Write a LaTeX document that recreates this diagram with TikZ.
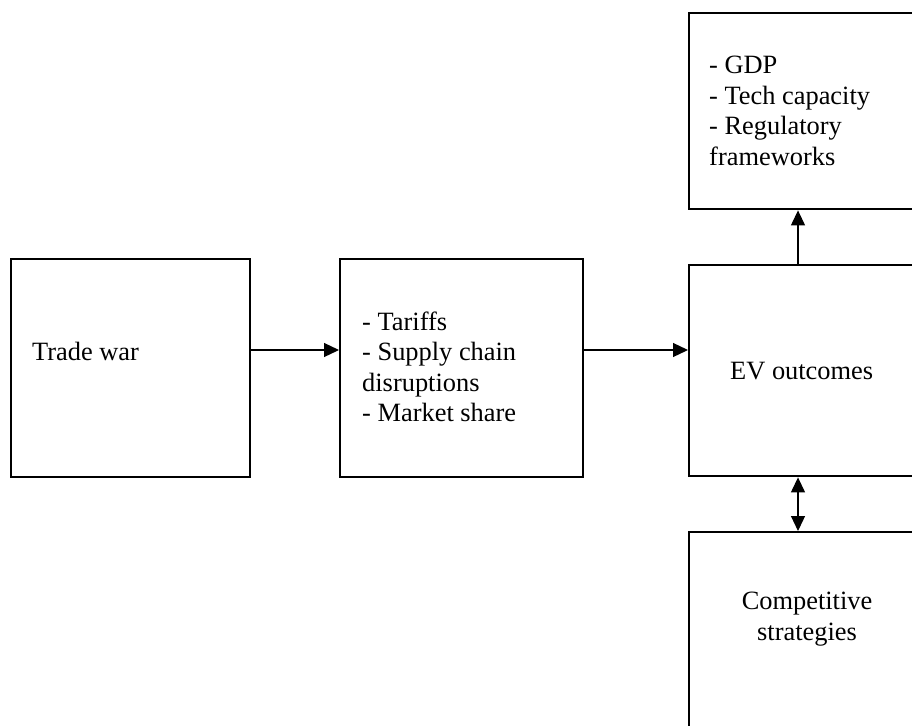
\documentclass[tikz,border=0pt]{standalone}
\usepackage{fontspec}
\setmainfont{Liberation Serif}
\usetikzlibrary{arrows.meta}
\tikzset{
  box/.style={draw=black, line width=2.4pt, rectangle, inner sep=0pt, anchor=north west},
  lbl/.style={inner sep=0pt, font=\fontsize{26.4}{30.4}\selectfont},
  conn/.style={line width=1.2pt, -{Triangle[length=15pt,width=14pt]}},
  biconn/.style={line width=1.2pt, {Triangle[length=15pt,width=14pt]}-{Triangle[length=15pt,width=14pt]}}
}
\begin{document}
\begin{tikzpicture}[x=1pt,y=-1pt]
\fill[white] (0,0) rectangle (912,725);
\clip (0,0) rectangle (912,725);
% boxes
\node[box, minimum width=239pt, minimum height=218pt] (trade) at (10,258) {};
\node[box, minimum width=243pt, minimum height=218pt] (mid) at (339,258) {};
\node[box, minimum width=230pt, minimum height=211pt] (ev) at (688,264) {};
\node[box, minimum width=230pt, minimum height=196pt] (top) at (688,12) {};
\node[box, minimum width=230pt, minimum height=220pt] (bot) at (688,531) {};
% texts
\node[lbl, anchor=base west] (tradetxt) at (32,360) {Trade war};
\node[lbl, anchor=base west, align=left] (midtxt) at (362,421.5) {- Tariffs\\- Supply chain\\disruptions\\- Market share};
\node[lbl, anchor=base west] (evtxt) at (730,379) {EV outcomes};
\node[lbl, anchor=base west, align=left] (toptxt) at (709,165) {- GDP\\- Tech capacity\\- Regulatory\\frameworks};
\node[lbl, anchor=base, align=center] (bottxt) at (807,640) {Competitive\\strategies};
% connectors
\coordinate (a1) at (trade.east |- 0,350);
\coordinate (a2) at (mid.west |- 0,350);
\coordinate (b1) at (mid.east |- 0,350);
\coordinate (b2) at (ev.west |- 0,350);
\coordinate (c1) at (798,0);
\draw[conn] (a1) -- (a2);
\draw[conn] (b1) -- (b2);
\draw[conn] (ev.north -| c1) -- (top.south -| c1);
\draw[biconn] (ev.south -| c1) -- (bot.north -| c1);
\end{tikzpicture}
\end{document}
